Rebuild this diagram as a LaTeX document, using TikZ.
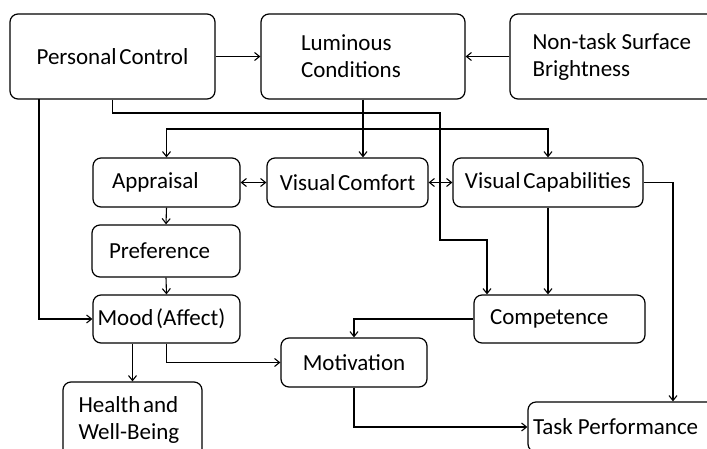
\documentclass[tikz,border=0pt]{standalone}
\usepackage{fontspec}
\setmainfont{Carlito}
\usetikzlibrary{positioning,arrows.meta}
\newcommand{\boxfont}{\fontsize{23}{27}\selectfont\spaceskip=0.12em\relax}

\begin{document}
\begin{tikzpicture}[x=1pt,y=-1pt,>={Straight Barb[length=5pt,width=8pt]},
  box/.style={draw,rounded corners=8pt,line width=1.2pt,inner sep=0pt,
    font=\boxfont,align=center},
  lbox/.style={box,align=flush left},
  conn/.style={line width=1.1pt,->}]
\clip (0,0) rectangle (707,448);
% top row
\node[box,minimum width=205pt,minimum height=85pt] (pc) at (112.5,56.5) {Personal Control};
\node[lbox,minimum width=204pt,minimum height=85pt,text width=124pt] (lum) at (363,56.5) {Luminous\\Conditions};
\node[lbox,minimum width=220pt,minimum height=85pt,text width=175pt] (nts) at (620,56.5) {Non-task\hspace{0.22em}Surface\\Brightness};
% second row
\node[lbox,minimum width=147pt,minimum height=49pt,text width=109pt] (app) at (166.5,182.5) {Appraisal};
\node[box,minimum width=161pt,minimum height=49pt] (vc) at (347.5,182.5) {Visual Comfort};
\node[box,minimum width=190pt,minimum height=49pt] (vcap) at (548,182.5) {Visual Capabilities};
\node[lbox,minimum width=148pt,minimum height=52pt,text width=114pt] (pref) at (166,251) {Preference};
\node[lbox,minimum width=147pt,minimum height=48pt,text width=138pt] (mood) at (166.5,319) {Mood (Affect)};
\node[lbox,minimum width=171pt,minimum height=48pt,text width=139pt] (comp) at (559.5,319) {Competence};
\node[box,minimum width=146pt,minimum height=49pt] (mot) at (354,362.5) {Motivation};
\node[lbox,minimum width=139pt,minimum height=76pt,text width=108pt] (health) at (132.5,420) {Health and\\Well-Being};
\node[lbox,minimum width=202pt,minimum height=50pt,text width=192pt] (task) at (629,427) {Task\hspace{0.22em}Performance};

\coordinate (split) at (363,129);
\coordinate (pcl) at (39,99);
\coordinate (pcb1) at (440,113);
\coordinate (pcb2) at (487,240);
\coordinate (vr) at (673,182.5);

\draw[conn] (pc.east) -- (lum.west);
\draw[conn] (nts.west) -- (lum.east);
\draw[conn] (lum.south) -- (lum.south |- vc.north);
\draw[conn] (split) -| (app.north);
\draw[conn] (split) -| (vcap.north);
\draw[conn,<->] (app.east) -- (vc.west);
\draw[conn,<->] (vc.east) -- (vcap.west);
\draw[conn] (pc.south) |- (pcb1) |- (pcb2) -- (pcb2 |- comp.north);
\draw[conn] (pcl) |- (mood.west);
\draw[conn] (app.south) -- (pref.north);
\draw[conn] (pref.south) -- (mood.north);
\draw[conn] (vcap.south) -- (vcap.south |- comp.north);
\draw[conn] (vcap.east) -- (vr) -- (vr |- task.north);
\draw[conn] (comp.west) -| (mot.north);
\draw[conn] (mood.south -| health.north) -- (health.north);
\draw[conn] (mood.south) |- (mot.west);
\draw[conn] (mot.south) |- (task.west);
\end{tikzpicture}
\end{document}
